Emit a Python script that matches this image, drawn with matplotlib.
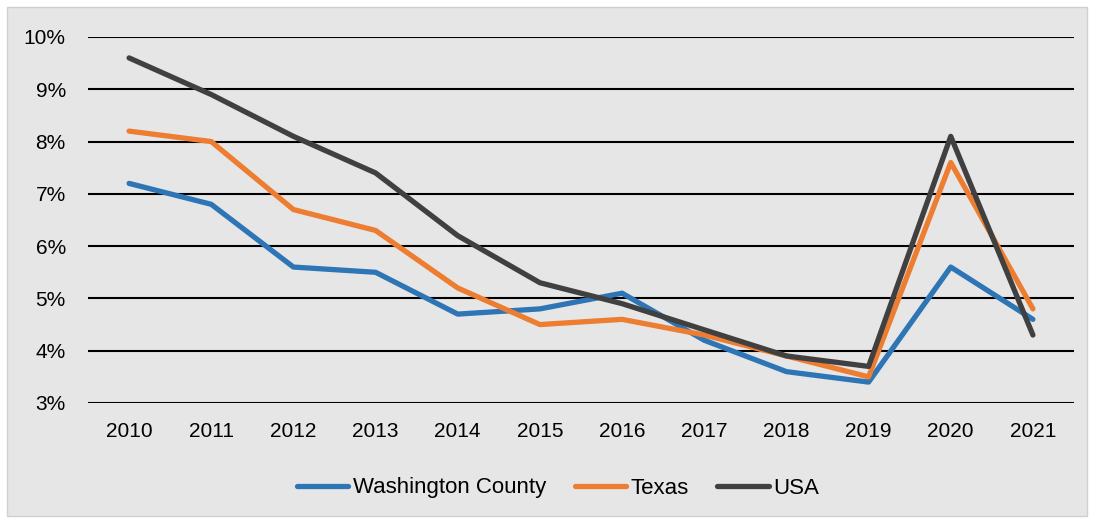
import matplotlib.pyplot as plt
from matplotlib.patches import Rectangle
from matplotlib.ticker import FuncFormatter

years = ['2010', '2011', '2012', '2013', '2014', '2015', '2016', '2017', '2018', '2019', '2020', '2021']
washington = [7.2, 6.8, 5.6, 5.5, 4.7, 4.8, 5.1, 4.2, 3.6, 3.4, 5.6, 4.6]
texas = [8.2, 8.0, 6.7, 6.3, 5.2, 4.5, 4.6, 4.3, 3.9, 3.5, 7.6, 4.8]
usa = [9.6, 8.9, 8.1, 7.4, 6.2, 5.3, 4.9, 4.4, 3.9, 3.7, 8.1, 4.3]

plt.rcParams['font.family'] = ['Liberation Sans', 'DejaVu Sans']

fig = plt.figure(figsize=(10.94, 5.23), dpi=100)
fig.patch.set_facecolor('white')
fig.patches.append(Rectangle((7 / 1094, 1 - 516 / 523), 1080 / 1094, 509 / 523,
                             transform=fig.transFigure, facecolor='#e7e6e6',
                             edgecolor='#d0d0d0', linewidth=1, zorder=-10))

ax = fig.add_axes([88 / 1094, 1 - 403 / 523, 986 / 1094, 366 / 523])
ax.set_facecolor('none')
ax.set_zorder(5)

x = range(len(years))
ax.plot(x, washington, color='#2e75b6', lw=3.8, label='Washington County', solid_capstyle='round', zorder=3)
ax.plot(x, texas, color='#ed7d31', lw=3.8, label='Texas', solid_capstyle='round', zorder=3)
ax.plot(x, usa, color='#404040', lw=3.8, label='USA', solid_capstyle='round', zorder=3)

ax.set_xlim(-0.5, len(years) - 0.5)
ax.set_ylim(3, 10)
ax.set_yticks(range(3, 11))
ax.yaxis.set_major_formatter(FuncFormatter(lambda v, p: f'{v:.0f}%'))
ax.set_xticks(list(x))
ax.set_xticklabels(years)
ax.grid(axis='y', color='black', lw=1.5)
ax.set_axisbelow(True)
for s in ax.spines.values():
    s.set_visible(False)
ax.tick_params(length=0, labelsize=15, colors='black')
ax.tick_params(axis='y', pad=16)
ax.tick_params(axis='x', pad=14)

leg = ax.legend(loc='center', bbox_to_anchor=(0.51, 1 - 488 / 523), bbox_transform=fig.transFigure,
                ncol=3, frameon=False, fontsize=16, handlelength=2.3, handletextpad=0.2,
                columnspacing=1.3)

fig.savefig('out.png', dpi=100)
